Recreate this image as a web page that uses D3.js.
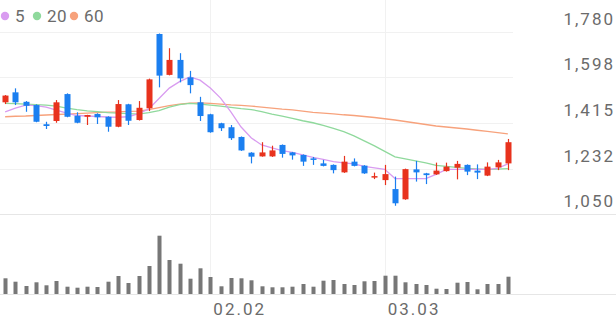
<!DOCTYPE html>
<html>
<head>
<meta charset="utf-8">
<script src="https://cdn.jsdelivr.net/npm/d3@7"></script>
<style>
  body { margin: 0; background: #fff; }
  svg text { font-family: Roboto, "Noto Sans", sans-serif; fill: #6b6b6b; font-size: 17px; letter-spacing: 2px; }
</style>
</head>
<body>
<script>
// trading days (2026)
var dates = ["01.05","01.06","01.07","01.08","01.09","01.12","01.13","01.14","01.15","01.16",
  "01.19","01.20","01.21","01.22","01.23","01.26","01.27","01.28","01.29","01.30",
  "02.02","02.03","02.04","02.05","02.06","02.09","02.10","02.11","02.12","02.13",
  "02.19","02.20","02.23","02.24","02.25","02.26","02.27","03.03","03.04","03.05",
  "03.06","03.09","03.10","03.11","03.12","03.13","03.16","03.17","03.18","03.19"];

var open  = [1498,1538,1500,1487,1410,1423,1531,1444,1440,1451, 1440,1400,1490,1427,1474,1772,1608,1668,1598,1498,
             1450,1414,1398,1359,1296,1281,1281,1327,1297,1287, 1273,1253,1247,1217,1260,1244,1198,1186,1150,1109,
             1229,1213,1209,1222,1236,1247,1224,1204,1237,1253];
var high  = [1527,1554,1503,1490,1420,1507,1534,1458,1448,1454, 1442,1507,1492,1503,1593,1774,1715,1695,1624,1520,
             1452,1416,1407,1361,1298,1338,1324,1329,1299,1289, 1279,1267,1249,1283,1273,1246,1216,1247,1200,1232,
             1263,1215,1256,1256,1263,1249,1249,1257,1267,1351];
var low   = [1491,1487,1460,1418,1391,1416,1438,1414,1407,1411, 1380,1398,1407,1425,1463,1558,1606,1578,1534,1423,
             1376,1383,1347,1303,1253,1280,1279,1276,1268,1243, 1247,1241,1213,1215,1241,1211,1190,1166,1083,1107,
             1180,1170,1207,1220,1189,1206,1190,1202,1226,1226];
var close = [1525,1498,1484,1420,1403,1498,1440,1416,1447,1438, 1400,1491,1424,1476,1590,1605,1668,1594,1567,1443,
             1378,1394,1354,1305,1280,1297,1305,1291,1285,1260, 1267,1243,1226,1260,1243,1213,1202,1210,1093,1230,
             1217,1206,1224,1240,1251,1220,1216,1240,1257,1338];

var volume = [157,123,80,117,87,130,73,63,73,70, 123,180,110,180,280,583,340,303,153,257,
              170,77,160,157,137,77,67,67,73,100, 73,133,140,100,90,127,130,183,183,117,
              100,90,53,50,113,120,47,100,100,173];

var ma5  = [1460,1475,1487,1485,1479,1467,1455,1445,1443,1441, 1439,1438,1440,1453,1471,1513,1555,1581,1600,1587,
            1555,1515,1460,1399,1355,1327,1315,1304,1297,1287, 1277,1269,1260,1255,1251,1241,1235,1229,1192,1192,
            1192,1192,1209,1229,1229,1229,1229,1229,1233,1251];
var ma20 = [1494,1493,1491,1489,1487,1483,1475,1469,1464,1461, 1457,1455,1453,1451,1457,1465,1479,1489,1494,1491,
            1487,1483,1478,1473,1469,1461,1451,1443,1434,1424, 1416,1405,1393,1380,1363,1343,1323,1301,1279,1271,
            1263,1255,1245,1241,1237,1233,1231,1229,1230,1232];
var ma60 = [1440,1442,1443,1445,1447,1449,1451,1453,1455,1457, 1459,1460,1462,1463,1469,1477,1485,1491,1495,1496,
            1494,1491,1488,1486,1483,1479,1475,1471,1468,1463, 1458,1455,1452,1448,1445,1441,1437,1432,1427,1421,
            1415,1409,1403,1399,1395,1391,1386,1381,1376,1371];

var priceTicks = [1050, 1232, 1415, 1598, 1780];
var dateTicks = ["02.02", "03.03"];
var maNames = ["5", "20", "60"];
var maColors = ["#d99cf0", "#8fd99c", "#f7a27c"];

var width = 616, height = 321;
var upColor = "#e8321d", downColor = "#1b7ff0";

var svg = d3.select("body").append("svg")
    .attr("width", width)
    .attr("height", height);

var x = d3.scaleBand().domain(dates).range([0, 513]);
var cx = function (d) { return x(d) + x.bandwidth() / 2; };
var y = d3.scaleLinear().domain([1050, 1780]).range([214, 32]);
var yv = d3.scaleLinear().domain([0, d3.max(volume)]).range([294, 235.7]);

// grid
svg.append("g").selectAll("line")
    .data(priceTicks)
    .enter().append("line")
    .attr("x1", 0)
    .attr("x2", function (d) { return d === 1050 ? width : 513; })
    .attr("y1", function (d) { return Math.round(y(d)) + 0.5; })
    .attr("y2", function (d) { return Math.round(y(d)) + 0.5; })
    .attr("stroke", function (d) { return d === 1050 ? "#e6e6e6" : "#f1f1f1"; });

svg.append("g").selectAll("line")
    .data(dateTicks)
    .enter().append("line")
    .attr("x1", function (d) { return Math.round(cx(d)) + 0.5; })
    .attr("x2", function (d) { return Math.round(cx(d)) + 0.5; })
    .attr("y1", 0)
    .attr("y2", 294)
    .attr("stroke", "#f1f1f1");

svg.append("line")
    .attr("x1", 0).attr("x2", width)
    .attr("y1", 294.5).attr("y2", 294.5)
    .attr("stroke", "#e6e6e6");

// price labels
svg.append("g").selectAll("text")
    .data(priceTicks)
    .enter().append("text")
    .attr("x", 615)
    .attr("y", function (d) { return y(d) - 7; })
    .attr("text-anchor", "end")
    .text(d3.format(","));

// date labels
svg.append("g").selectAll("text")
    .data(dateTicks)
    .enter().append("text")
    .attr("x", function (d) { return cx(d) + 3; })
    .attr("y", 315)
    .text(function (d) { return d; });

// moving averages
var maData = [ma5, ma20, ma60];
var line = d3.line()
    .x(function (d, i) { return cx(dates[i]); })
    .y(function (d) { return y(d); });

svg.append("g").selectAll("path")
    .data(maData.slice().reverse())
    .enter().append("path")
    .attr("d", line)
    .attr("fill", "none")
    .attr("stroke", function (d, i) { return maColors[2 - i]; })
    .attr("stroke-width", 1.3);

// candles
var idx = d3.range(dates.length);
var candle = svg.append("g").selectAll("g")
    .data(idx)
    .enter().append("g");

candle.append("line")
    .attr("x1", function (i) { return Math.round(cx(dates[i])) + 0.5; })
    .attr("x2", function (i) { return Math.round(cx(dates[i])) + 0.5; })
    .attr("y1", function (i) { return y(high[i]); })
    .attr("y2", function (i) { return y(low[i]); })
    .attr("stroke", function (i) { return close[i] >= open[i] ? upColor : downColor; })
    .attr("stroke-width", 1.2);

candle.append("rect")
    .attr("x", function (i) { return Math.round(cx(dates[i])) - 2.5; })
    .attr("width", 6)
    .attr("y", function (i) { return y(Math.max(open[i], close[i])); })
    .attr("height", function (i) { return Math.max(1.5, Math.abs(y(open[i]) - y(close[i]))); })
    .attr("fill", function (i) { return close[i] >= open[i] ? upColor : downColor; });

// volume
svg.append("g").selectAll("rect")
    .data(idx)
    .enter().append("rect")
    .attr("x", function (i) { return Math.round(cx(dates[i])) - 1.5; })
    .attr("width", 4)
    .attr("y", function (i) { return yv(volume[i]); })
    .attr("height", function (i) { return 294 - yv(volume[i]); })
    .attr("fill", "#777");

// legend
var lx = [5, 37, 74];
var legend = svg.append("g").selectAll("g")
    .data(maNames)
    .enter().append("g");
legend.append("circle")
    .attr("cx", function (d, i) { return lx[i]; })
    .attr("cy", 16)
    .attr("r", 4.2)
    .attr("fill", function (d, i) { return maColors[i]; });
legend.append("text")
    .attr("x", function (d, i) { return lx[i] + 10; })
    .attr("y", 22)
    .style("letter-spacing", "0.5px")
    .text(function (d) { return d; });
</script>
</body>
</html>
